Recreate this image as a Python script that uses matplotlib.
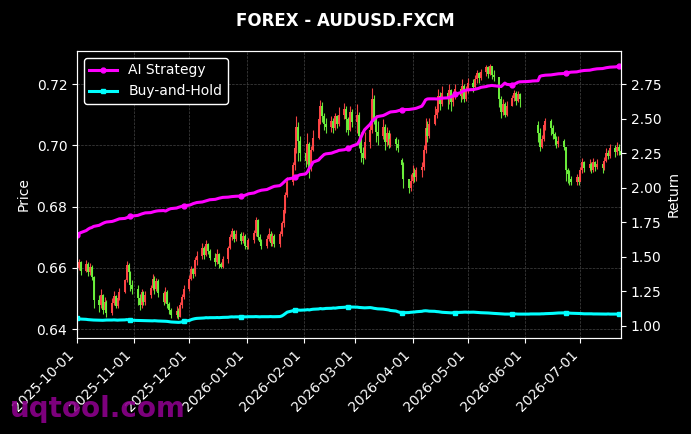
import matplotlib
matplotlib.use("Agg")
import matplotlib.pyplot as plt
import matplotlib.dates as mdates
import numpy as np
import pandas as pd

nan = np.nan

# trading days 2025-10-01 .. 2026-07-23, one row per week
dates = pd.bdate_range("2025-10-01", "2026-07-23")

close = [
    0.6600, 0.6618, 0.6590,
    0.6612, 0.6585, 0.6603, 0.6570, 0.6495,
    0.6478, 0.6510, 0.6462, 0.6490, 0.6452,
    0.6485, 0.6508, 0.6475, 0.6500, 0.6522,
    0.6560, 0.6610, 0.6585, 0.6545, 0.6530,
    0.6500, 0.6478, 0.6520, 0.6490, 0.6510,
    0.6535, 0.6565, 0.6530, 0.6558, 0.6518,
    0.6490, 0.6520, 0.6482, 0.6462, 0.6445,
    0.6460, 0.6440, 0.6478, 0.6505, 0.6530,
    0.6565, 0.6595, 0.6580, 0.6625, 0.6640,
    0.6665, 0.6642, 0.6678, 0.6655, 0.6632,
    0.6620, 0.6645, 0.6612, 0.6602, 0.6630,
    0.6665, 0.6700, 0.6720, 0.6695, 0.6712,
    0.6688, 0.6705, 0.6672, 0.6668, 0.6690,
    0.6715, 0.6755, 0.6702, 0.6685, 0.6672,
    0.6695, 0.6710, 0.6682, 0.6705, 0.6678,
    0.6712, 0.6745, 0.6790, 0.6838, 0.6880,
    0.6935, 0.6990, 0.7060, 0.7015, 0.6975,
    0.6950, 0.7005, 0.6925, 0.6985, 0.7025,
    0.7085, 0.7130, 0.7095, 0.7070, 0.7060,
    0.7080, 0.7055, 0.7095, 0.7070, 0.7100,
    0.7120, 0.7085, 0.7050, 0.7110, 0.7075,
    0.7100, 0.7030, 0.6975, 0.6960, 0.7010,
    0.7050, 0.7150, 0.7090, 0.7045, 0.7030,
    0.7060, 0.7010, 0.7040, 0.7000, 0.7020,
    0.7005, 0.6990, nan, 0.6935, 0.6890,
    0.6860, 0.6885, 0.6910, 0.6895, 0.6918,
    0.6930, 0.6985, 0.7055, 0.7030, 0.7070,
    0.7100, 0.7120, 0.7160, 0.7135, 0.7170,
    0.7150, 0.7180, 0.7140, 0.7165, 0.7185,
    0.7160, 0.7195, 0.7150, 0.7180, 0.7205,
    0.7190, 0.7215, 0.7235, 0.7220, 0.7240,
    0.7255, 0.7232, 0.7258, 0.7228, 0.7222,
    0.7150, 0.7110, 0.7135, 0.7100, 0.7130,
    0.7155, 0.7172, 0.7145, 0.7168, 0.7150,
    nan, nan, nan, nan, nan,
    0.7040, 0.6995, 0.7020, 0.7065, 0.7080,
    0.7055, 0.7038, 0.7020, 0.7005, 0.7015,
    0.6995, 0.6920, 0.6905, 0.6890, 0.6880,
    0.6895, 0.6880, 0.6920, 0.6945, 0.6925,
    0.6938, 0.6918, 0.6945, 0.6928, 0.6940,
    0.6925, 0.6950, 0.6975, 0.6965, 0.6990,
    0.6978, 0.6995, 0.6982, 0.6970,
]

high = [
    0.6625, 0.6628, 0.6622,
    0.6625, 0.6618, 0.6615, 0.6610, 0.6575,
    0.6510, 0.6530, 0.6515, 0.6505, 0.6495,
    0.6500, 0.6525, 0.6512, 0.6515, 0.6535,
    0.6565, 0.6622, 0.6615, 0.6590, 0.6560,
    0.6545, 0.6515, 0.6530, 0.6525, 0.6525,
    0.6545, 0.6580, 0.6572, 0.6568, 0.6562,
    0.6525, 0.6537, 0.6528, 0.6490, 0.6470,
    0.6475, 0.6468, 0.6490, 0.6515, 0.6545,
    0.6578, 0.6605, 0.6600, 0.6635, 0.6655,
    0.6680, 0.6672, 0.6690, 0.6682, 0.6660,
    0.6648, 0.6660, 0.6650, 0.6620, 0.6640,
    0.6672, 0.6710, 0.6730, 0.6722, 0.6725,
    0.6718, 0.6718, 0.6710, 0.6685, 0.6698,
    0.6722, 0.6766, 0.6760, 0.6712, 0.6695,
    0.6708, 0.6730, 0.6720, 0.6715, 0.6712,
    0.6720, 0.6752, 0.6800, 0.6848, 0.6895,
    0.6945, 0.7010, 0.7095, 0.7075, 0.7030,
    0.6985, 0.7040, 0.7010, 0.6998, 0.7050,
    0.7095, 0.7148, 0.7140, 0.7105, 0.7090,
    0.7095, 0.7088, 0.7105, 0.7100, 0.7125,
    0.7138, 0.7130, 0.7092, 0.7130, 0.7118,
    0.7135, 0.7110, 0.7045, 0.6995, 0.7045,
    0.7068, 0.7187, 0.7165, 0.7100, 0.7080,
    0.7085, 0.7070, 0.7060, 0.7050, 0.7040,
    0.7027, 0.7020, nan, 0.6958, 0.6945,
    0.6880, 0.6905, 0.6935, 0.6925, 0.6930,
    0.6945, 0.7000, 0.7090, 0.7080, 0.7090,
    0.7130, 0.7135, 0.7185, 0.7175, 0.7195,
    0.7180, 0.7200, 0.7185, 0.7178, 0.7200,
    0.7192, 0.7215, 0.7200, 0.7195, 0.7220,
    0.7215, 0.7230, 0.7246, 0.7240, 0.7250,
    0.7262, 0.7260, 0.7265, 0.7255, 0.7245,
    0.7174, 0.7160, 0.7150, 0.7140, 0.7145,
    0.7165, 0.7180, 0.7178, 0.7176, 0.7172,
    nan, nan, nan, nan, nan,
    0.7080, 0.7055, 0.7035, 0.7080, 0.7090,
    0.7085, 0.7065, 0.7045, 0.7030, 0.7030,
    0.7020, 0.6935, 0.6926, 0.6918, 0.6900,
    0.6905, 0.6900, 0.6930, 0.6960, 0.6950,
    0.6955, 0.6945, 0.6958, 0.6950, 0.6955,
    0.6945, 0.6962, 0.6990, 0.6985, 0.7005,
    0.7002, 0.7010, 0.7005, 0.6992,
]

low = [
    0.6580, 0.6592, 0.6578,
    0.6585, 0.6575, 0.6578, 0.6560, 0.6470,
    0.6455, 0.6470, 0.6450, 0.6458, 0.6440,
    0.6445, 0.6478, 0.6468, 0.6470, 0.6495,
    0.6518, 0.6555, 0.6560, 0.6525, 0.6515,
    0.6480, 0.6462, 0.6470, 0.6478, 0.6480,
    0.6500, 0.6528, 0.6515, 0.6525, 0.6505,
    0.6478, 0.6485, 0.6470, 0.6450, 0.6436,
    0.6436, 0.6432, 0.6440, 0.6470, 0.6498,
    0.6525, 0.6560, 0.6568, 0.6575, 0.6610,
    0.6630, 0.6630, 0.6640, 0.6645, 0.6625,
    0.6605, 0.6612, 0.6600, 0.6598, 0.6600,
    0.6615, 0.6660, 0.6690, 0.6685, 0.6688,
    0.6678, 0.6680, 0.6662, 0.6660, 0.6662,
    0.6680, 0.6705, 0.6690, 0.6675, 0.6660,
    0.6665, 0.6688, 0.6670, 0.6672, 0.6668,
    0.6668, 0.6705, 0.6735, 0.6780, 0.6830,
    0.6870, 0.6920, 0.6975, 0.6950, 0.6950,
    0.6930, 0.6940, 0.6893, 0.6915, 0.6980,
    0.7020, 0.7070, 0.7075, 0.7050, 0.7040,
    0.7045, 0.7040, 0.7050, 0.7055, 0.7062,
    0.7085, 0.7045, 0.7035, 0.7048, 0.7060,
    0.7040, 0.6990, 0.6945, 0.6940, 0.6955,
    0.6990, 0.7040, 0.7070, 0.7010, 0.7000,
    0.7020, 0.6985, 0.6998, 0.6990, 0.6995,
    0.6985, 0.6978, nan, 0.6905, 0.6860,
    0.6844, 0.6850, 0.6878, 0.6880, 0.6885,
    0.6895, 0.6920, 0.6975, 0.7010, 0.7025,
    0.7065, 0.7090, 0.7110, 0.7115, 0.7128,
    0.7120, 0.7135, 0.7112, 0.7130, 0.7150,
    0.7140, 0.7150, 0.7140, 0.7145, 0.7170,
    0.7175, 0.7185, 0.7205, 0.7205, 0.7212,
    0.7225, 0.7220, 0.7228, 0.7215, 0.7210,
    0.7125, 0.7090, 0.7098, 0.7092, 0.7095,
    0.7128, 0.7145, 0.7132, 0.7140, 0.7125,
    nan, nan, nan, nan, nan,
    0.7010, 0.6980, 0.6990, 0.7015, 0.7050,
    0.7035, 0.7020, 0.7000, 0.6990, 0.6995,
    0.6985, 0.6885, 0.6878, 0.6872, 0.6870,
    0.6872, 0.6870, 0.6885, 0.6910, 0.6912,
    0.6915, 0.6910, 0.6912, 0.6915, 0.6922,
    0.6910, 0.6918, 0.6945, 0.6955, 0.6960,
    0.6962, 0.6970, 0.6968, 0.6960,
]

# opens that do not follow the previous close (start of data, after gaps)
gap_opens = {"2025-10-01": 0.6605, "2026-03-26": 0.6952, "2026-06-08": 0.7068}

strategy = [
    1.660, 1.668, 1.675,
    1.690, 1.700, 1.708, 1.712, 1.720,
    1.728, 1.735, 1.742, 1.748, 1.752,
    1.756, 1.760, 1.765, 1.770, 1.775,
    1.778, 1.783, 1.788, 1.792, 1.795,
    1.800, 1.805, 1.810, 1.814, 1.818,
    1.820, 1.824, 1.828, 1.831, 1.833,
    1.835, 1.831, 1.838, 1.845, 1.849,
    1.853, 1.858, 1.862, 1.866, 1.870,
    1.874, 1.879, 1.885, 1.889, 1.893,
    1.897, 1.901, 1.905, 1.909, 1.913,
    1.916, 1.920, 1.924, 1.927, 1.930,
    1.932, 1.934, 1.936, 1.937, 1.938,
    1.940, 1.942, 1.945, 1.950, 1.956,
    1.962, 1.968, 1.974, 1.978, 1.982,
    1.987, 1.993, 1.999, 2.005, 2.010,
    2.015, 2.025, 2.038, 2.050, 2.062,
    2.070, 2.078, 2.082, 2.088, 2.094,
    2.100, 2.115, 2.140, 2.160, 2.185,
    2.200, 2.215, 2.228, 2.240, 2.245,
    2.250, 2.255, 2.260, 2.264, 2.270,
    2.275, 2.280, 2.285, 2.290, 2.300,
    2.315, 2.335, 2.365, 2.395, 2.420,
    2.460, 2.480, 2.495, 2.505, 2.515,
    2.522, 2.528, 2.535, 2.542, 2.548,
    2.552, 2.556, 2.560, 2.562, 2.565,
    2.566, 2.568, 2.570, 2.572, 2.575,
    2.590, 2.610, 2.635, 2.642, 2.643,
    2.643, 2.642, 2.644, 2.646, 2.648,
    2.650, 2.654, 2.658, 2.665, 2.675,
    2.688, 2.696, 2.702, 2.706, 2.708,
    2.710, 2.713, 2.716, 2.720, 2.726,
    2.732, 2.736, 2.738, 2.740, 2.738,
    2.734, 2.732, 2.745, 2.757, 2.748,
    2.743, 2.748, 2.755, 2.762, 2.766,
    2.767, 2.768, 2.769, 2.770, 2.772,
    2.774, 2.805, 2.810, 2.812, 2.814,
    2.816, 2.818, 2.820, 2.822, 2.824,
    2.826, 2.829, 2.832, 2.834, 2.836,
    2.838, 2.841, 2.844, 2.846, 2.848,
    2.850, 2.853, 2.856, 2.858, 2.860,
    2.862, 2.865, 2.868, 2.870, 2.872,
    2.874, 2.876, 2.877, 2.878,
]

buy_hold = [
    1.055, 1.052, 1.050,
    1.048, 1.046, 1.045, 1.044, 1.043,
    1.042, 1.042, 1.041, 1.042, 1.043,
    1.043, 1.044, 1.043, 1.042, 1.043,
    1.044, 1.046, 1.044, 1.042, 1.041,
    1.040, 1.039, 1.040, 1.039, 1.038,
    1.038, 1.037, 1.038, 1.037, 1.036,
    1.035, 1.034, 1.033, 1.031, 1.029,
    1.027, 1.026, 1.027, 1.030, 1.034,
    1.040, 1.046, 1.050, 1.053, 1.055,
    1.057, 1.058, 1.060, 1.059, 1.060,
    1.060, 1.061, 1.060, 1.061, 1.062,
    1.063, 1.065, 1.066, 1.065, 1.066,
    1.066, 1.067, 1.066, 1.066, 1.067,
    1.067, 1.068, 1.067, 1.066, 1.067,
    1.067, 1.067, 1.068, 1.067, 1.067,
    1.068, 1.072, 1.080, 1.090, 1.100,
    1.110, 1.116, 1.118, 1.115, 1.114,
    1.116, 1.118, 1.116, 1.119, 1.121,
    1.123, 1.126, 1.124, 1.125, 1.127,
    1.128, 1.130, 1.129, 1.131, 1.133,
    1.135, 1.137, 1.138, 1.136, 1.137,
    1.136, 1.134, 1.133, 1.132, 1.131,
    1.133, 1.131, 1.128, 1.126, 1.124,
    1.122, 1.120, 1.118, 1.116, 1.112,
    1.108, 1.103, 1.099, 1.097, 1.096,
    1.097, 1.099, 1.100, 1.101, 1.103,
    1.106, 1.109, 1.110, 1.109, 1.107,
    1.106, 1.104, 1.103, 1.101, 1.099,
    1.097, 1.096, 1.095, 1.096, 1.097,
    1.098, 1.099, 1.100, 1.100, 1.099,
    1.100, 1.099, 1.098, 1.097, 1.096,
    1.095, 1.094, 1.093, 1.092, 1.091,
    1.089, 1.088, 1.087, 1.086, 1.086,
    1.086, 1.086, 1.087, 1.086, 1.086,
    1.086, 1.086, 1.086, 1.087, 1.087,
    1.087, 1.087, 1.088, 1.088, 1.089,
    1.090, 1.091, 1.092, 1.093, 1.094,
    1.095, 1.095, 1.094, 1.093, 1.092,
    1.091, 1.090, 1.090, 1.089, 1.088,
    1.088, 1.088, 1.087, 1.087, 1.087,
    1.086, 1.086, 1.086, 1.087, 1.086,
    1.086, 1.086, 1.086, 1.086,
]

UP = "#ff4646"    # red = close above open
DOWN = "#6cf03c"  # green = close below open


def draw() -> None:
    df = pd.DataFrame({"close": close, "high": high, "low": low}, index=dates)
    # FX: open taken as the previous close
    df["open"] = df["close"].shift(1)
    for d, v in gap_opens.items():
        df.loc[pd.Timestamp(d), "open"] = v
    df = df.dropna()

    fig = plt.figure(figsize=(6.91, 4.34), dpi=100, facecolor="black")
    ax = fig.add_axes([0.1114, 0.2212, 0.7873, 0.6613], facecolor="black")

    colors = np.where(df["close"] >= df["open"], UP, DOWN)
    ax.vlines(df.index, df["low"], df["high"], colors=colors, lw=0.8, alpha=0.95)
    ax.vlines(df.index, df["open"], df["close"], colors=colors, lw=1.4, alpha=1.0)

    ax.set_ylim(0.6371, 0.7308)
    ax.set_yticks([0.64, 0.66, 0.68, 0.70, 0.72])
    ax.yaxis.set_major_formatter(matplotlib.ticker.FormatStrFormatter("%.2f"))
    ax.set_ylabel("Price", color="white", fontsize=10)
    ax.grid(True, color="#555555", linestyle="--", linewidth=0.5, alpha=0.8)

    ax2 = ax.twinx()
    ax2.plot(dates, strategy, color="#ff00ff", lw=2.2, marker="o", markersize=3.5,
             markevery=21, label="AI Strategy")
    ax2.plot(dates, buy_hold, color="#00ffff", lw=2.2, marker="s", markersize=3.5,
             markevery=21, label="Buy-and-Hold")
    ax2.set_ylim(0.913, 2.989)
    ax2.set_yticks([1.00, 1.25, 1.50, 1.75, 2.00, 2.25, 2.50, 2.75])
    ax2.yaxis.set_major_formatter(matplotlib.ticker.FormatStrFormatter("%.2f"))
    ax2.set_ylabel("Return", color="white", fontsize=10)

    ax.set_xlim(dates[0], dates[-1])
    ax.xaxis.set_major_locator(mdates.MonthLocator())
    ax.xaxis.set_major_formatter(mdates.DateFormatter("%Y-%m-%d"))
    plt.setp(ax.get_xticklabels(), rotation=45, ha="right")

    for a in (ax, ax2):
        a.tick_params(colors="white", labelsize=10)
        for s in a.spines.values():
            s.set_color("white")

    leg = ax2.legend(loc="upper left", fontsize=10, facecolor="black",
                     edgecolor="white", labelcolor="white")
    leg.get_frame().set_alpha(1.0)

    fig.suptitle("FOREX - AUDUSD.FXCM", color="white", fontsize=12,
                 fontweight="bold", y=0.973)
    fig.text(0.014, 0.04, "uqtool.com", color="#8b008b", fontsize=20,
             fontweight="bold", alpha=0.9)

    fig.savefig("out.png", dpi=100, facecolor="black")


def main() -> None:
    draw()


main()
